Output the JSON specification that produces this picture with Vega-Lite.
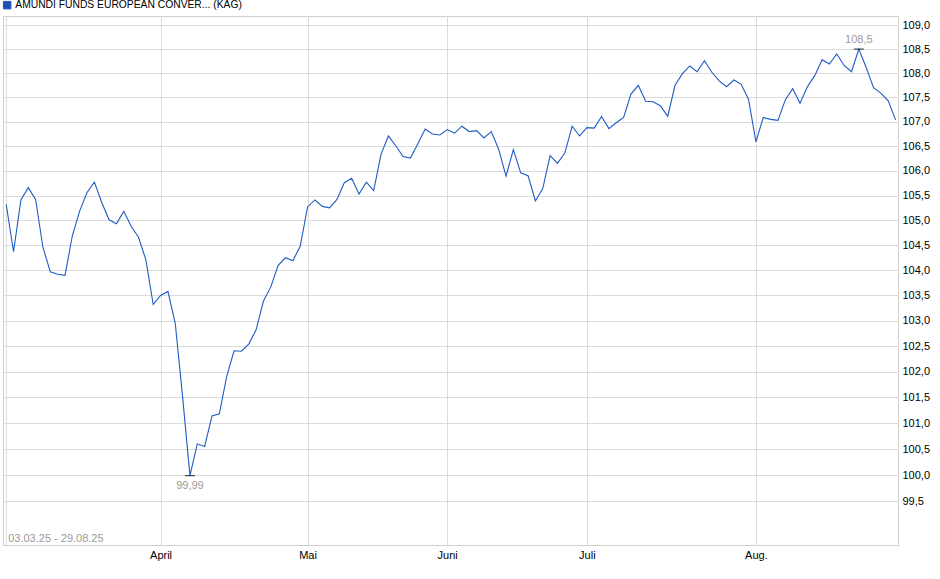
{
  "$schema": "https://vega.github.io/schema/vega-lite/v6.json",
  "width": 895,
  "height": 529,
  "autosize": {"type": "none"},
  "padding": {"left": 3, "top": 16, "right": 42, "bottom": 34},
  "background": "#ffffff",
  "config": {
    "font": "Liberation Sans",
    "view": {"stroke": "#cfcfcf", "strokeWidth": 1}
  },
  "datasets": {
    "kurs": [
      {"i": 0, "v": 105.32}, {"i": 1, "v": 104.37}, {"i": 2, "v": 105.41}, {"i": 3, "v": 105.66},
      {"i": 4, "v": 105.42}, {"i": 5, "v": 104.46}, {"i": 6, "v": 103.97}, {"i": 7, "v": 103.92},
      {"i": 8, "v": 103.90}, {"i": 9, "v": 104.69}, {"i": 10, "v": 105.19}, {"i": 11, "v": 105.56},
      {"i": 12, "v": 105.77}, {"i": 13, "v": 105.36}, {"i": 14, "v": 105.01}, {"i": 15, "v": 104.93},
      {"i": 16, "v": 105.18}, {"i": 17, "v": 104.88}, {"i": 18, "v": 104.66}, {"i": 19, "v": 104.21},
      {"i": 20, "v": 103.32}, {"i": 21, "v": 103.50}, {"i": 22, "v": 103.58}, {"i": 23, "v": 102.95},
      {"i": 24, "v": 101.51}, {"i": 25, "v": 99.99}, {"i": 26, "v": 100.60}, {"i": 27, "v": 100.55},
      {"i": 28, "v": 101.14}, {"i": 29, "v": 101.18}, {"i": 30, "v": 101.91}, {"i": 31, "v": 102.41},
      {"i": 32, "v": 102.40}, {"i": 33, "v": 102.54}, {"i": 34, "v": 102.82}, {"i": 35, "v": 103.39},
      {"i": 36, "v": 103.67}, {"i": 37, "v": 104.10}, {"i": 38, "v": 104.25}, {"i": 39, "v": 104.19},
      {"i": 40, "v": 104.48}, {"i": 41, "v": 105.27}, {"i": 42, "v": 105.41}, {"i": 43, "v": 105.28},
      {"i": 44, "v": 105.25}, {"i": 45, "v": 105.42}, {"i": 46, "v": 105.76}, {"i": 47, "v": 105.85},
      {"i": 48, "v": 105.53}, {"i": 49, "v": 105.77}, {"i": 50, "v": 105.60}, {"i": 51, "v": 106.34},
      {"i": 52, "v": 106.71}, {"i": 53, "v": 106.51}, {"i": 54, "v": 106.29}, {"i": 55, "v": 106.26},
      {"i": 56, "v": 106.55}, {"i": 57, "v": 106.85}, {"i": 58, "v": 106.75}, {"i": 59, "v": 106.73},
      {"i": 60, "v": 106.84}, {"i": 61, "v": 106.77}, {"i": 62, "v": 106.91}, {"i": 63, "v": 106.80},
      {"i": 64, "v": 106.82}, {"i": 65, "v": 106.67}, {"i": 66, "v": 106.80}, {"i": 67, "v": 106.44},
      {"i": 68, "v": 105.89}, {"i": 69, "v": 106.43}, {"i": 70, "v": 105.96}, {"i": 71, "v": 105.90},
      {"i": 72, "v": 105.39}, {"i": 73, "v": 105.64}, {"i": 74, "v": 106.31}, {"i": 75, "v": 106.15},
      {"i": 76, "v": 106.36}, {"i": 77, "v": 106.91}, {"i": 78, "v": 106.71}, {"i": 79, "v": 106.88},
      {"i": 80, "v": 106.87}, {"i": 81, "v": 107.11}, {"i": 82, "v": 106.86}, {"i": 83, "v": 106.98},
      {"i": 84, "v": 107.09}, {"i": 85, "v": 107.57}, {"i": 86, "v": 107.75}, {"i": 87, "v": 107.42},
      {"i": 88, "v": 107.41}, {"i": 89, "v": 107.33}, {"i": 90, "v": 107.11}, {"i": 91, "v": 107.75},
      {"i": 92, "v": 107.99}, {"i": 93, "v": 108.15}, {"i": 94, "v": 108.03}, {"i": 95, "v": 108.26},
      {"i": 96, "v": 108.02}, {"i": 97, "v": 107.84}, {"i": 98, "v": 107.72}, {"i": 99, "v": 107.86},
      {"i": 100, "v": 107.77}, {"i": 101, "v": 107.46}, {"i": 102, "v": 106.59}, {"i": 103, "v": 107.09},
      {"i": 104, "v": 107.05}, {"i": 105, "v": 107.03}, {"i": 106, "v": 107.45}, {"i": 107, "v": 107.68},
      {"i": 108, "v": 107.38}, {"i": 109, "v": 107.72}, {"i": 110, "v": 107.95}, {"i": 111, "v": 108.28},
      {"i": 112, "v": 108.19}, {"i": 113, "v": 108.40}, {"i": 114, "v": 108.16}, {"i": 115, "v": 108.03},
      {"i": 116, "v": 108.50}, {"i": 117, "v": 108.12}, {"i": 118, "v": 107.70}, {"i": 119, "v": 107.59},
      {"i": 120, "v": 107.43}, {"i": 121, "v": 107.04}
    ],
    "extreme": [
      {"i": 25, "v": 99.99, "label": "99,99", "side": "below"},
      {"i": 116, "v": 108.5, "label": "108,5", "side": "above"}
    ],
    "range": [
      {"i": 0, "v": 98.78, "label": "03.03.25 - 29.08.25"}
    ]
  },
  "layer": [
    {
      "data": {"name": "kurs"},
      "mark": {"type": "line", "strokeWidth": 1.1, "interpolate": "linear"},
      "encoding": {
        "x": {
          "field": "i",
          "type": "quantitative",
          "scale": {"domain": [-0.435, 121.33], "nice": false, "zero": false},
          "axis": {
            "orient": "bottom",
            "title": null,
            "values": [0, 21, 41, 60, 79, 102],
            "labelExpr": "datum.value == 21 ? 'April' : datum.value == 41 ? 'Mai' : datum.value == 60 ? 'Juni' : datum.value == 79 ? 'Juli' : datum.value == 102 ? 'Aug.' : ''",
            "grid": true,
            "gridColor": "#dcdcdc",
            "domain": false,
            "ticks": false,
            "tickSize": 0,
            "labelPadding": 4,
            "labelFontSize": 11,
            "labelColor": "#000000",
            "labelFlush": false
          }
        },
        "y": {
          "field": "v",
          "type": "quantitative",
          "scale": {"type": "log", "domain": [98.67, 109.19], "nice": false, "zero": false},
          "axis": {
            "orient": "right",
            "title": null,
            "values": [99.5, 100, 100.5, 101, 101.5, 102, 102.5, 103, 103.5, 104, 104.5, 105, 105.5, 106, 106.5, 107, 107.5, 108, 108.5, 109],
            "labelExpr": "replace(format(datum.value, '.1f'), '.', ',')",
            "grid": true,
            "gridColor": "#dcdcdc",
            "domain": false,
            "ticks": false,
            "tickSize": 0,
            "labelPadding": 4,
            "labelFontSize": 11,
            "labelColor": "#000000"
          }
        },
        "color": {
          "datum": "AMUNDI FUNDS EUROPEAN CONVER... (KAG)",
          "type": "nominal",
          "scale": {"range": ["#1f5bc4"]},
          "legend": {
            "orient": "none",
            "legendX": -1,
            "legendY": -16,
            "title": null,
            "symbolType": "square",
            "symbolSize": 56,
            "labelFontSize": 10.3,
            "labelColor": "#000000",
            "labelOffset": 3,
            "labelLimit": 500,
            "padding": 0,
            "encode": {
              "symbols": {
                "update": {
                  "fill": {"value": "#1f4fb0"},
                  "stroke": {"value": "#0d2a66"},
                  "strokeWidth": {"value": 1}
                }
              }
            }
          }
        }
      }
    },
    {
      "data": {"name": "extreme"},
      "mark": {"type": "tick", "orient": "horizontal", "size": 10, "thickness": 1.2, "color": "#000000"},
      "encoding": {
        "x": {"field": "i", "type": "quantitative"},
        "y": {"field": "v", "type": "quantitative"}
      }
    },
    {
      "data": {"name": "extreme"},
      "transform": [{"filter": "datum.side == 'above'"}],
      "mark": {"type": "text", "dy": -9, "fontSize": 11, "color": "#9a9a9a", "align": "center", "baseline": "middle"},
      "encoding": {
        "x": {"field": "i", "type": "quantitative"},
        "y": {"field": "v", "type": "quantitative"},
        "text": {"field": "label"}
      }
    },
    {
      "data": {"name": "extreme"},
      "transform": [{"filter": "datum.side == 'below'"}],
      "mark": {"type": "text", "dy": 10, "fontSize": 11, "color": "#9a9a9a", "align": "center", "baseline": "middle"},
      "encoding": {
        "x": {"field": "i", "type": "quantitative"},
        "y": {"field": "v", "type": "quantitative"},
        "text": {"field": "label"}
      }
    },
    {
      "data": {"name": "range"},
      "mark": {"type": "text", "dx": 2, "fontSize": 11, "color": "#9a9a9a", "align": "left", "baseline": "middle"},
      "encoding": {
        "x": {"field": "i", "type": "quantitative"},
        "y": {"field": "v", "type": "quantitative"},
        "text": {"field": "label"}
      }
    }
  ]
}
